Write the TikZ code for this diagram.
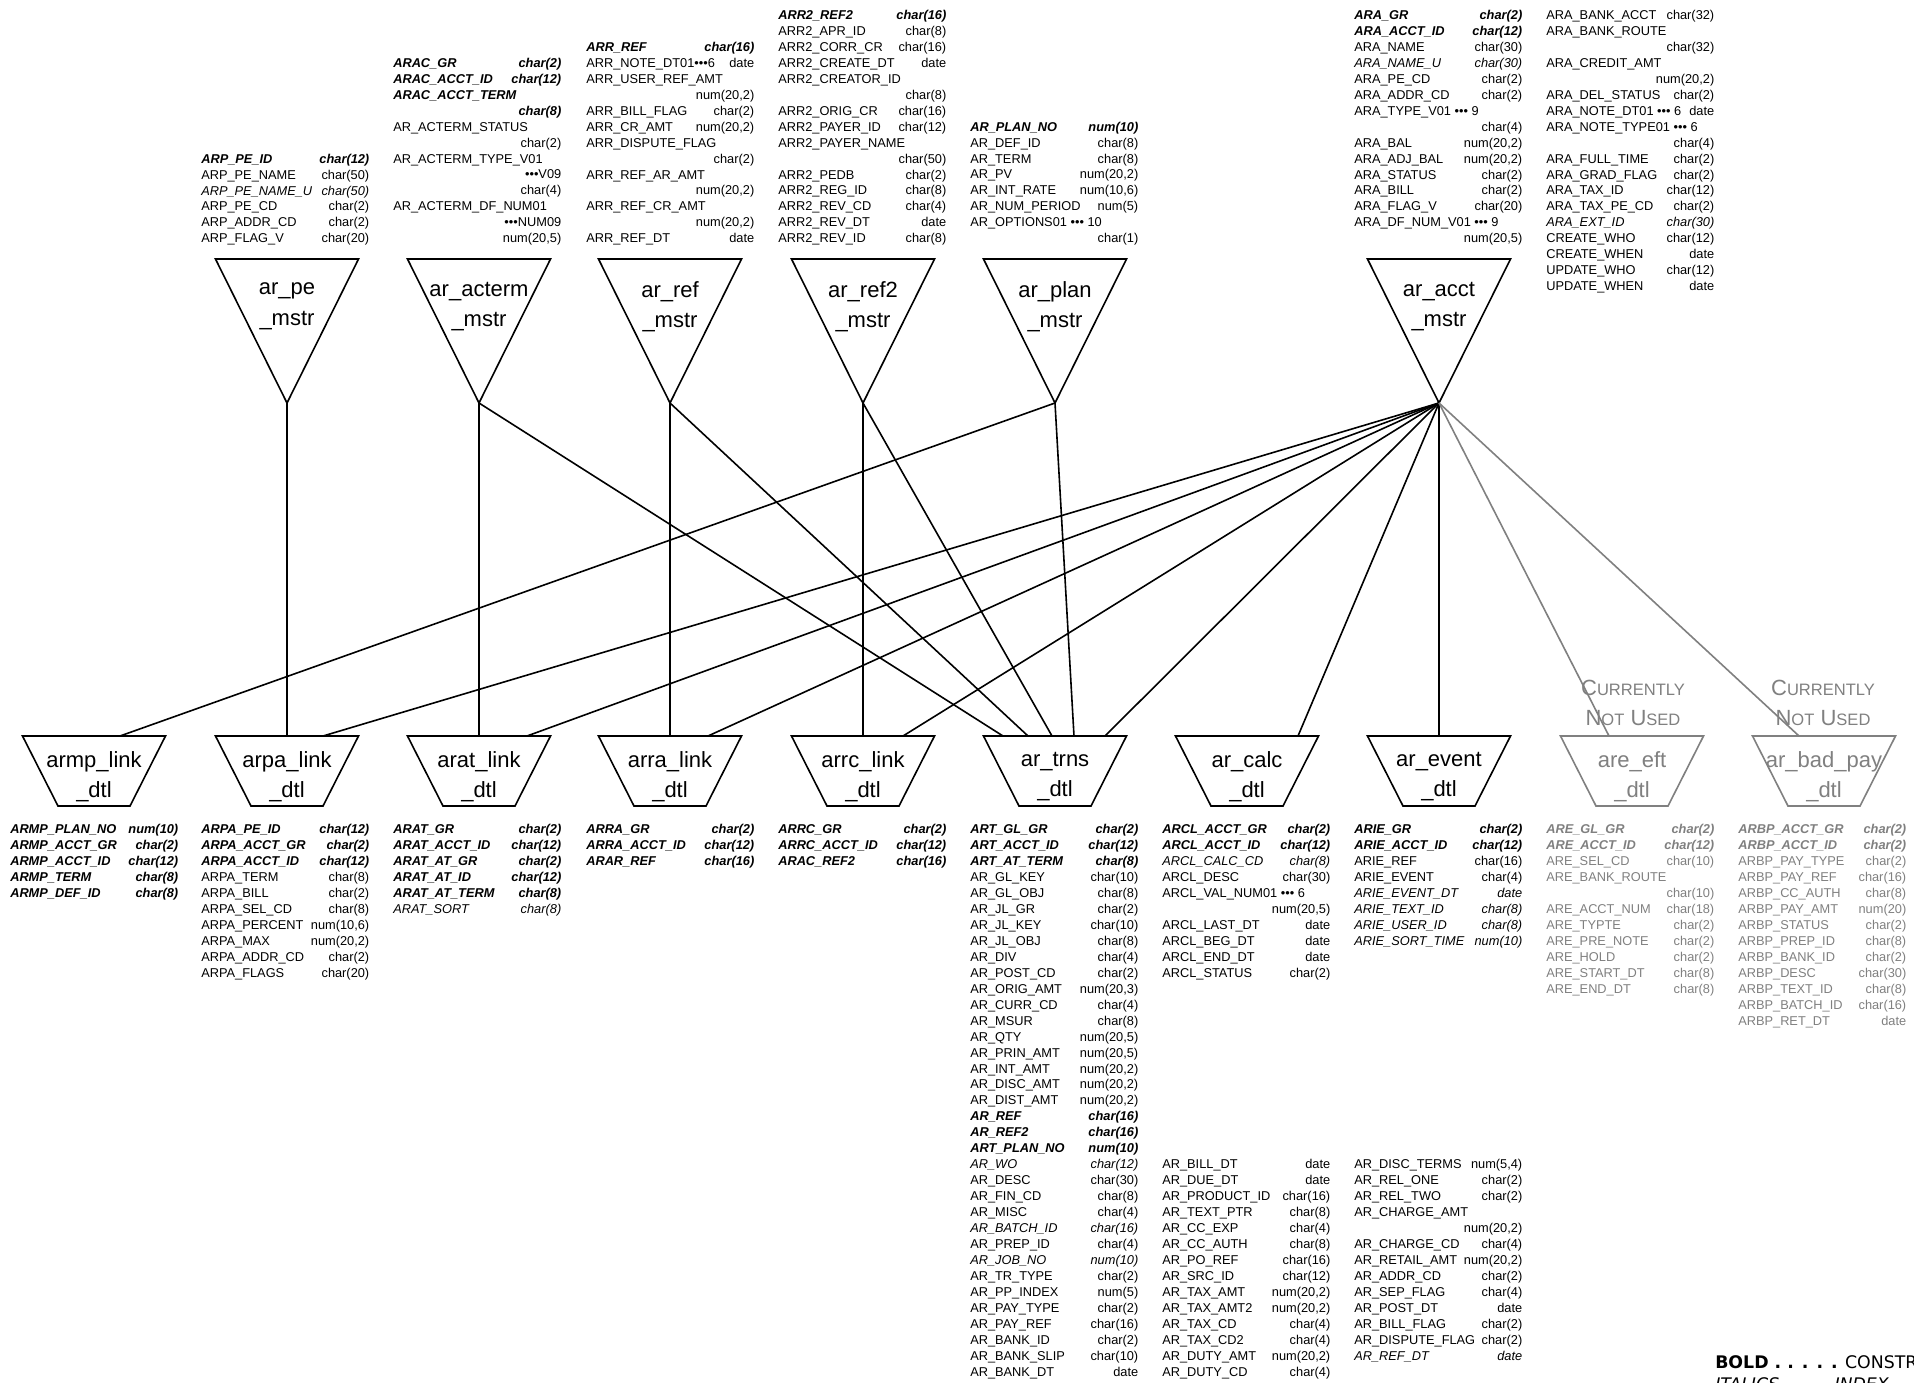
\documentclass[tikz,border=0pt]{standalone}
\usepackage{fontspec}
\setmainfont{Liberation Sans}
\newfontfamily\legfam{DejaVu Sans}
\definecolor{gry}{RGB}{128,128,128}
\newlength\fldw \setlength\fldw{126pt}
\newcommand\fldfont{\fontsize{9.6pt}{11.96pt}\selectfont}
\newcommand\lblfont{\fontsize{16.5pt}{22.9pt}\selectfont}
\newcommand\smc[1]{{\fontsize{12.4pt}{12.4pt}\selectfont #1}}
\newcommand\rwN[2]{\hbox to\fldw{\strut#1\hskip.3em plus1fill#2}}
\newcommand\rwB[2]{\hbox to\fldw{\strut\bfseries\itshape#1\hskip.3em plus1fill#2}}
\newcommand\rwI[2]{\hbox to\fldw{\strut\itshape#1\hskip.3em plus1fill#2}}
\newcommand\rwO[1]{\hbox to\fldw{\strut#1\hss}}
\newcommand\rwOB[1]{\hbox to\fldw{\strut\bfseries\itshape#1\hss}}
\newcommand\rwT[1]{\hbox to\fldw{\hfill\strut#1}}
\newcommand\rwTB[1]{\hbox to\fldw{\hfill\strut\bfseries\itshape#1}}
\tikzset{
 fld/.style={anchor=north west, inner sep=0pt, font=\fldfont},
 gfld/.style={fld, text=gry},
 shp/.style={draw, line width=1.2pt, line join=miter},
 gshp/.style={shp, draw=gry},
 lbl/.style={font=\lblfont, align=center, inner sep=0pt},
 glbl/.style={lbl, text=gry},
 con/.style={line width=1.2pt},
 gcon/.style={con, draw=gry},
}
\begin{document}
\begin{tikzpicture}[x=0.75pt,y=-0.75pt]
\useasboundingbox (0,0) rectangle (1914,1382);
\fill[white] (0,0) rectangle (1914,1382);
\clip (0,0) rectangle (1914,1382);

% ---------- master tables (triangles) ----------
\foreach \c in {287,479,670,863,1055,1439}
  \draw[shp] (\c-71.5,259) -- (\c+71.5,259) -- (\c,403) -- cycle;
\node[lbl] (pe)     at (287,306.5)  {ar\_pe\\\_mstr};
\node[lbl] (acterm) at (479,306.5)  {ar\_acterm\\\_mstr};
\node[lbl] (ref)    at (670,306.5)  {ar\_ref\\\_mstr};
\node[lbl] (ref2)   at (863,306.5)  {ar\_ref2\\\_mstr};
\node[lbl] (plan)   at (1055,306.5) {ar\_plan\\\_mstr};
\node[lbl] (acct)   at (1439,306.5) {ar\_acct\\\_mstr};
\coordinate (pe-a)     at (287,403);
\coordinate (acterm-a) at (479,403);
\coordinate (ref-a)    at (670,403);
\coordinate (ref2-a)   at (863,403);
\coordinate (plan-a)   at (1055,403);
\coordinate (acct-a)   at (1439,403);

% ---------- detail tables (trapezoids) ----------
\foreach \c in {94,287,479,670,863,1055,1247,1439}
  \draw[shp] (\c-71.5,736) -- (\c+71.5,736) -- (\c+36,806) -- (\c-36,806) -- cycle;
\foreach \c in {1632,1824}
  \draw[gshp] (\c-71.5,736) -- (\c+71.5,736) -- (\c+36,806) -- (\c-36,806) -- cycle;
\node[lbl] (armp)  at (94,776.5)   {armp\_link\\\_dtl};
\node[lbl] (arpa)  at (287,776.5)  {arpa\_link\\\_dtl};
\node[lbl] (arat)  at (479,776.5)  {arat\_link\\\_dtl};
\node[lbl] (arra)  at (670,776.5)  {arra\_link\\\_dtl};
\node[lbl] (arrc)  at (863,776.5)  {arrc\_link\\\_dtl};
\node[lbl] (trns)  at (1055,776.5) {ar\_trns\\\_dtl};
\node[lbl] (calc)  at (1247,776.5) {ar\_calc\\\_dtl};
\node[lbl] (event) at (1439,776.5) {ar\_event\\\_dtl};
\node[glbl] (eft)  at (1632,776.5) {are\_eft\\\_dtl};
\node[glbl] (bad)  at (1824,776.5) {ar\_bad\_pay\\\_dtl};
\node[glbl] (cnu1) at (1633,703) {C\smc{URRENTLY}\\N\smc{OT} U\smc{SED}};
\node[glbl] (cnu2) at (1823,703) {C\smc{URRENTLY}\\N\smc{OT} U\smc{SED}};

\coordinate (armp-p)  at (120,736);
\coordinate (arpa-e)  at (287,736);
\coordinate (arpa-a)  at (323,736);
\coordinate (arat-e)  at (479,736);
\coordinate (arat-a)  at (527,736);
\coordinate (arra-e)  at (670,736);
\coordinate (arra-a)  at (708,736);
\coordinate (arrc-e)  at (863,736);
\coordinate (arrc-a)  at (903,736);
\coordinate (trns-t)  at (1003,736);
\coordinate (trns-r)  at (1028,736);
\coordinate (trns-r2) at (1052,736);
\coordinate (trns-p)  at (1074,736);
\coordinate (trns-a)  at (1105,736);
\coordinate (calc-a)  at (1298,736);
\coordinate (event-a) at (1439,736);
\coordinate (eft-a)   at (1609,736);
\coordinate (bad-a)   at (1799,736);

% ---------- connectors ----------
\draw[con] (plan-a) -- (armp-p);
\draw[con] (pe-a) -- (arpa-e);
\draw[con] (acterm-a) -- (arat-e);
\draw[con] (ref-a) -- (arra-e);
\draw[con] (ref2-a) -- (arrc-e);
\draw[con] (acterm-a) -- (trns-t);
\draw[con] (ref-a) -- (trns-r);
\draw[con] (ref2-a) -- (trns-r2);
\draw[con] (plan-a) -- (trns-p);
\foreach \t in {arpa-a,arat-a,arra-a,arrc-a,trns-a,calc-a,event-a}
  \draw[con] (acct-a) -- (\t);
\draw[gcon] (acct-a) -- (eft-a);
\draw[gcon] (acct-a) -- (bad-a);

% ---------- top field lists ----------
\node[fld] (arpf) at (201,151.7) {\vbox{%
\rwB{ARP\_PE\_ID}{char(12)}
\rwN{ARP\_PE\_NAME}{char(50)}
\rwI{ARP\_PE\_NAME\_U}{char(50)}
\rwN{ARP\_PE\_CD}{char(2)}
\rwN{ARP\_ADDR\_CD}{char(2)}
\rwN{ARP\_FLAG\_V}{char(20)}}};

\node[fld] (aracf) at (393,55.9) {\vbox{%
\rwB{ARAC\_GR}{char(2)}
\rwB{ARAC\_ACCT\_ID}{char(12)}
\rwOB{ARAC\_ACCT\_TERM}
\rwTB{char(8)}
\rwO{AR\_ACTERM\_STATUS}
\rwT{char(2)}
\rwO{AR\_ACTERM\_TYPE\_V01}
\rwT{•••V09}
\rwT{char(4)}
\rwO{AR\_ACTERM\_DF\_NUM01}
\rwT{•••NUM09}
\rwT{num(20,5)}}};

\node[fld] (arrf) at (586,40.0) {\vbox{%
\rwB{ARR\_REF}{char(16)}
\rwN{ARR\_NOTE\_DT01•••6}{date}
\rwO{ARR\_USER\_REF\_AMT}
\rwT{num(20,2)}
\rwN{ARR\_BILL\_FLAG}{char(2)}
\rwN{ARR\_CR\_AMT}{num(20,2)}
\rwO{ARR\_DISPUTE\_FLAG}
\rwT{char(2)}
\rwO{ARR\_REF\_AR\_AMT}
\rwT{num(20,2)}
\rwO{ARR\_REF\_CR\_AMT}
\rwT{num(20,2)}
\rwN{ARR\_REF\_DT}{date}}};

\node[fld] (arr2f) at (778,8.1) {\vbox{%
\rwB{ARR2\_REF2}{char(16)}
\rwN{ARR2\_APR\_ID}{char(8)}
\rwN{ARR2\_CORR\_CR}{char(16)}
\rwN{ARR2\_CREATE\_DT}{date}
\rwO{ARR2\_CREATOR\_ID}
\rwT{char(8)}
\rwN{ARR2\_ORIG\_CR}{char(16)}
\rwN{ARR2\_PAYER\_ID}{char(12)}
\rwO{ARR2\_PAYER\_NAME}
\rwT{char(50)}
\rwN{ARR2\_PEDB}{char(2)}
\rwN{ARR2\_REG\_ID}{char(8)}
\rwN{ARR2\_REV\_CD}{char(4)}
\rwN{ARR2\_REV\_DT}{date}
\rwN{ARR2\_REV\_ID}{char(8)}}};

\node[fld] (planf) at (970,119.7) {\vbox{%
\rwB{AR\_PLAN\_NO}{num(10)}
\rwN{AR\_DEF\_ID}{char(8)}
\rwN{AR\_TERM}{char(8)}
\rwN{AR\_PV}{num(20,2)}
\rwN{AR\_INT\_RATE}{num(10,6)}
\rwN{AR\_NUM\_PERIOD}{num(5)}
\rwO{AR\_OPTIONS01 ••• 10}
\rwT{char(1)}}};

\node[fld] (araf) at (1354,8.1) {\vbox{%
\rwB{ARA\_GR}{char(2)}
\rwB{ARA\_ACCT\_ID}{char(12)}
\rwN{ARA\_NAME}{char(30)}
\rwI{ARA\_NAME\_U}{char(30)}
\rwN{ARA\_PE\_CD}{char(2)}
\rwN{ARA\_ADDR\_CD}{char(2)}
\rwO{ARA\_TYPE\_V01 ••• 9}
\rwT{char(4)}
\rwN{ARA\_BAL}{num(20,2)}
\rwN{ARA\_ADJ\_BAL}{num(20,2)}
\rwN{ARA\_STATUS}{char(2)}
\rwN{ARA\_BILL}{char(2)}
\rwN{ARA\_FLAG\_V}{char(20)}
\rwO{ARA\_DF\_NUM\_V01 ••• 9}
\rwT{num(20,5)}}};

\node[fld] (araf2) at (1546,8.1) {\vbox{%
\rwN{ARA\_BANK\_ACCT}{char(32)}
\rwO{ARA\_BANK\_ROUTE}
\rwT{char(32)}
\rwO{ARA\_CREDIT\_AMT}
\rwT{num(20,2)}
\rwN{ARA\_DEL\_STATUS}{char(2)}
\rwN{ARA\_NOTE\_DT01 ••• 6}{date}
\rwO{ARA\_NOTE\_TYPE01 ••• 6}
\rwT{char(4)}
\rwN{ARA\_FULL\_TIME}{char(2)}
\rwN{ARA\_GRAD\_FLAG}{char(2)}
\rwN{ARA\_TAX\_ID}{char(12)}
\rwN{ARA\_TAX\_PE\_CD}{char(2)}
\rwI{ARA\_EXT\_ID}{char(30)}
\rwN{CREATE\_WHO}{char(12)}
\rwN{CREATE\_WHEN}{date}
\rwN{UPDATE\_WHO}{char(12)}
\rwN{UPDATE\_WHEN}{date}}};

% ---------- bottom field lists ----------
\node[fld] (armpf) at (10,822.4) {\vbox{%
\rwB{ARMP\_PLAN\_NO}{num(10)}
\rwB{ARMP\_ACCT\_GR}{char(2)}
\rwB{ARMP\_ACCT\_ID}{char(12)}
\rwB{ARMP\_TERM}{char(8)}
\rwB{ARMP\_DEF\_ID}{char(8)}}};

\node[fld] (arpaf) at (201,822.4) {\vbox{%
\rwB{ARPA\_PE\_ID}{char(12)}
\rwB{ARPA\_ACCT\_GR}{char(2)}
\rwB{ARPA\_ACCT\_ID}{char(12)}
\rwN{ARPA\_TERM}{char(8)}
\rwN{ARPA\_BILL}{char(2)}
\rwN{ARPA\_SEL\_CD}{char(8)}
\rwN{ARPA\_PERCENT}{num(10,6)}
\rwN{ARPA\_MAX}{num(20,2)}
\rwN{ARPA\_ADDR\_CD}{char(2)}
\rwN{ARPA\_FLAGS}{char(20)}}};

\node[fld] (aratf) at (393,822.4) {\vbox{%
\rwB{ARAT\_GR}{char(2)}
\rwB{ARAT\_ACCT\_ID}{char(12)}
\rwB{ARAT\_AT\_GR}{char(2)}
\rwB{ARAT\_AT\_ID}{char(12)}
\rwB{ARAT\_AT\_TERM}{char(8)}
\rwI{ARAT\_SORT}{char(8)}}};

\node[fld] (arraf) at (586,822.4) {\vbox{%
\rwB{ARRA\_GR}{char(2)}
\rwB{ARRA\_ACCT\_ID}{char(12)}
\rwB{ARAR\_REF}{char(16)}}};

\node[fld] (arrcf) at (778,822.4) {\vbox{%
\rwB{ARRC\_GR}{char(2)}
\rwB{ARRC\_ACCT\_ID}{char(12)}
\rwB{ARAC\_REF2}{char(16)}}};

\node[fld] (trnsf) at (970,822.4) {\vbox{%
\rwB{ART\_GL\_GR}{char(2)}
\rwB{ART\_ACCT\_ID}{char(12)}
\rwB{ART\_AT\_TERM}{char(8)}
\rwN{AR\_GL\_KEY}{char(10)}
\rwN{AR\_GL\_OBJ}{char(8)}
\rwN{AR\_JL\_GR}{char(2)}
\rwN{AR\_JL\_KEY}{char(10)}
\rwN{AR\_JL\_OBJ}{char(8)}
\rwN{AR\_DIV}{char(4)}
\rwN{AR\_POST\_CD}{char(2)}
\rwN{AR\_ORIG\_AMT}{num(20,3)}
\rwN{AR\_CURR\_CD}{char(4)}
\rwN{AR\_MSUR}{char(8)}
\rwN{AR\_QTY}{num(20,5)}
\rwN{AR\_PRIN\_AMT}{num(20,5)}
\rwN{AR\_INT\_AMT}{num(20,2)}
\rwN{AR\_DISC\_AMT}{num(20,2)}
\rwN{AR\_DIST\_AMT}{num(20,2)}
\rwB{AR\_REF}{char(16)}
\rwB{AR\_REF2}{char(16)}
\rwB{ART\_PLAN\_NO}{num(10)}
\rwI{AR\_WO}{char(12)}
\rwN{AR\_DESC}{char(30)}
\rwN{AR\_FIN\_CD}{char(8)}
\rwN{AR\_MISC}{char(4)}
\rwI{AR\_BATCH\_ID}{char(16)}
\rwN{AR\_PREP\_ID}{char(4)}
\rwI{AR\_JOB\_NO}{num(10)}
\rwN{AR\_TR\_TYPE}{char(2)}
\rwN{AR\_PP\_INDEX}{num(5)}
\rwN{AR\_PAY\_TYPE}{char(2)}
\rwN{AR\_PAY\_REF}{char(16)}
\rwN{AR\_BANK\_ID}{char(2)}
\rwN{AR\_BANK\_SLIP}{char(10)}
\rwN{AR\_BANK\_DT}{date}}};

\node[fld] (trnsf2) at (1162,1157.3) {\vbox{%
\rwN{AR\_BILL\_DT}{date}
\rwN{AR\_DUE\_DT}{date}
\rwN{AR\_PRODUCT\_ID}{char(16)}
\rwN{AR\_TEXT\_PTR}{char(8)}
\rwN{AR\_CC\_EXP}{char(4)}
\rwN{AR\_CC\_AUTH}{char(8)}
\rwN{AR\_PO\_REF}{char(16)}
\rwN{AR\_SRC\_ID}{char(12)}
\rwN{AR\_TAX\_AMT}{num(20,2)}
\rwN{AR\_TAX\_AMT2}{num(20,2)}
\rwN{AR\_TAX\_CD}{char(4)}
\rwN{AR\_TAX\_CD2}{char(4)}
\rwN{AR\_DUTY\_AMT}{num(20,2)}
\rwN{AR\_DUTY\_CD}{char(4)}}};

\node[fld] (trnsf3) at (1354,1157.3) {\vbox{%
\rwN{AR\_DISC\_TERMS}{num(5,4)}
\rwN{AR\_REL\_ONE}{char(2)}
\rwN{AR\_REL\_TWO}{char(2)}
\rwO{AR\_CHARGE\_AMT}
\rwT{num(20,2)}
\rwN{AR\_CHARGE\_CD}{char(4)}
\rwN{AR\_RETAIL\_AMT}{num(20,2)}
\rwN{AR\_ADDR\_CD}{char(2)}
\rwN{AR\_SEP\_FLAG}{char(4)}
\rwN{AR\_POST\_DT}{date}
\rwN{AR\_BILL\_FLAG}{char(2)}
\rwN{AR\_DISPUTE\_FLAG}{char(2)}
\rwI{AR\_REF\_DT}{date}}};

\node[fld] (calcf) at (1162,822.4) {\vbox{%
\rwB{ARCL\_ACCT\_GR}{char(2)}
\rwB{ARCL\_ACCT\_ID}{char(12)}
\rwI{ARCL\_CALC\_CD}{char(8)}
\rwN{ARCL\_DESC}{char(30)}
\rwO{ARCL\_VAL\_NUM01 ••• 6}
\rwT{num(20,5)}
\rwN{ARCL\_LAST\_DT}{date}
\rwN{ARCL\_BEG\_DT}{date}
\rwN{ARCL\_END\_DT}{date}
\rwN{ARCL\_STATUS}{char(2)}}};

\node[fld] (eventf) at (1354,822.4) {\vbox{%
\rwB{ARIE\_GR}{char(2)}
\rwB{ARIE\_ACCT\_ID}{char(12)}
\rwN{ARIE\_REF}{char(16)}
\rwN{ARIE\_EVENT}{char(4)}
\rwI{ARIE\_EVENT\_DT}{date}
\rwI{ARIE\_TEXT\_ID}{char(8)}
\rwI{ARIE\_USER\_ID}{char(8)}
\rwI{ARIE\_SORT\_TIME}{num(10)}}};

\node[gfld] (eftf) at (1546,822.4) {\vbox{%
\rwB{ARE\_GL\_GR}{char(2)}
\rwB{ARE\_ACCT\_ID}{char(12)}
\rwN{ARE\_SEL\_CD}{char(10)}
\rwO{ARE\_BANK\_ROUTE}
\rwT{char(10)}
\rwN{ARE\_ACCT\_NUM}{char(18)}
\rwN{ARE\_TYPTE}{char(2)}
\rwN{ARE\_PRE\_NOTE}{char(2)}
\rwN{ARE\_HOLD}{char(2)}
\rwN{ARE\_START\_DT}{char(8)}
\rwN{ARE\_END\_DT}{char(8)}}};

\node[gfld] (badf) at (1738,822.4) {\vbox{%
\rwB{ARBP\_ACCT\_GR}{char(2)}
\rwB{ARBP\_ACCT\_ID}{char(2)}
\rwN{ARBP\_PAY\_TYPE}{char(2)}
\rwN{ARBP\_PAY\_REF}{char(16)}
\rwN{ARBP\_CC\_AUTH}{char(8)}
\rwN{ARBP\_PAY\_AMT}{num(20)}
\rwN{ARBP\_STATUS}{char(2)}
\rwN{ARBP\_PREP\_ID}{char(8)}
\rwN{ARBP\_BANK\_ID}{char(2)}
\rwN{ARBP\_DESC}{char(30)}
\rwN{ARBP\_TEXT\_ID}{char(8)}
\rwN{ARBP\_BATCH\_ID}{char(16)}
\rwN{ARBP\_RET\_DT}{date}}};

% ---------- legend ----------
\node[anchor=base west, inner sep=0pt, font=\legfam\fontsize{13pt}{15pt}\selectfont] (leg1) at (1715,1368) {\textbf{BOLD . . . . .} CONSTRAINT};
\node[anchor=base west, inner sep=0pt, font=\legfam\fontsize{13pt}{15pt}\selectfont\itshape] (leg2) at (1715,1390) {ITALICS . . . . INDEX};
\end{tikzpicture}
\end{document}
